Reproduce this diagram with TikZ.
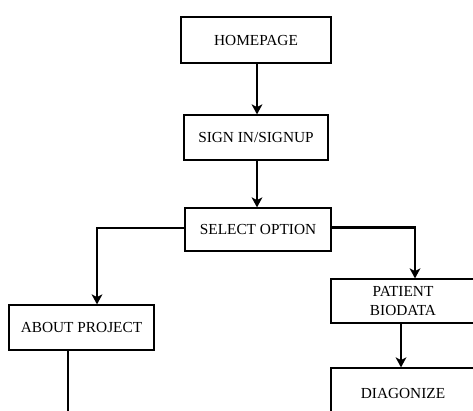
\documentclass[tikz,border=0pt]{standalone}
\usepackage{fontspec}
\setmainfont{Liberation Serif}
\usetikzlibrary{arrows.meta,calc}
\tikzset{
    box/.style={draw,line width=0.9pt,align=center,font=\fontsize{11.5}{14.5}\selectfont},
    flow/.style={line width=2.2pt,-{Stealth[length=7.5pt,width=8pt,inset=2pt]}},
    plain/.style={line width=2.2pt}
}
\begin{document}
\begin{tikzpicture}[x=0.75pt,y=-0.75pt]
    \useasboundingbox (0,0) rectangle (473,410);
    \clip (0,0) rectangle (473,410);
    \node[box,minimum width=112.5pt,minimum height=34.5pt] (home) at (256,40) {HOMEPAGE};
    \node[box,minimum width=108pt,minimum height=33.75pt] (sign) at (256,137.5) {SIGN IN/SIGNUP};
    \node[box,minimum width=109.5pt,minimum height=32.25pt] (select) at (258,229.5) {SELECT OPTION};
    \node[box,minimum width=108.75pt,minimum height=33.75pt] (about) at (81.5,327.5) {ABOUT PROJECT};
    \node[box,minimum width=108pt,minimum height=33pt] (patient) at (403,301) {PATIENT\\BIODATA};
    \node[box,minimum width=108pt,minimum height=37.5pt] (diag) at (403,393) {DIAGONIZE};
    \coordinate (aboutend) at (68,420);
    \draw[flow] ($(home.south)+(1,0)$) -- ($(sign.north)+(1,0)$);
    \draw[flow] ($(sign.south)+(1,0)$) -- ($(select.north)+(-1,0)$);
    \draw[flow] ($(select.west)+(0,-1.5)$) -| ($(about.north)+(15.5,0)$);
    \draw[flow] ($(select.east)+(0,-2)$) -| ($(patient.north)+(12,0)$);
    \draw[flow] ($(patient.south)+(-2,0)$) -- ($(diag.north)+(-2,0)$);
    \draw[plain] ($(about.south)+(-13.5,0)$) -- (aboutend);
\end{tikzpicture}
\end{document}
